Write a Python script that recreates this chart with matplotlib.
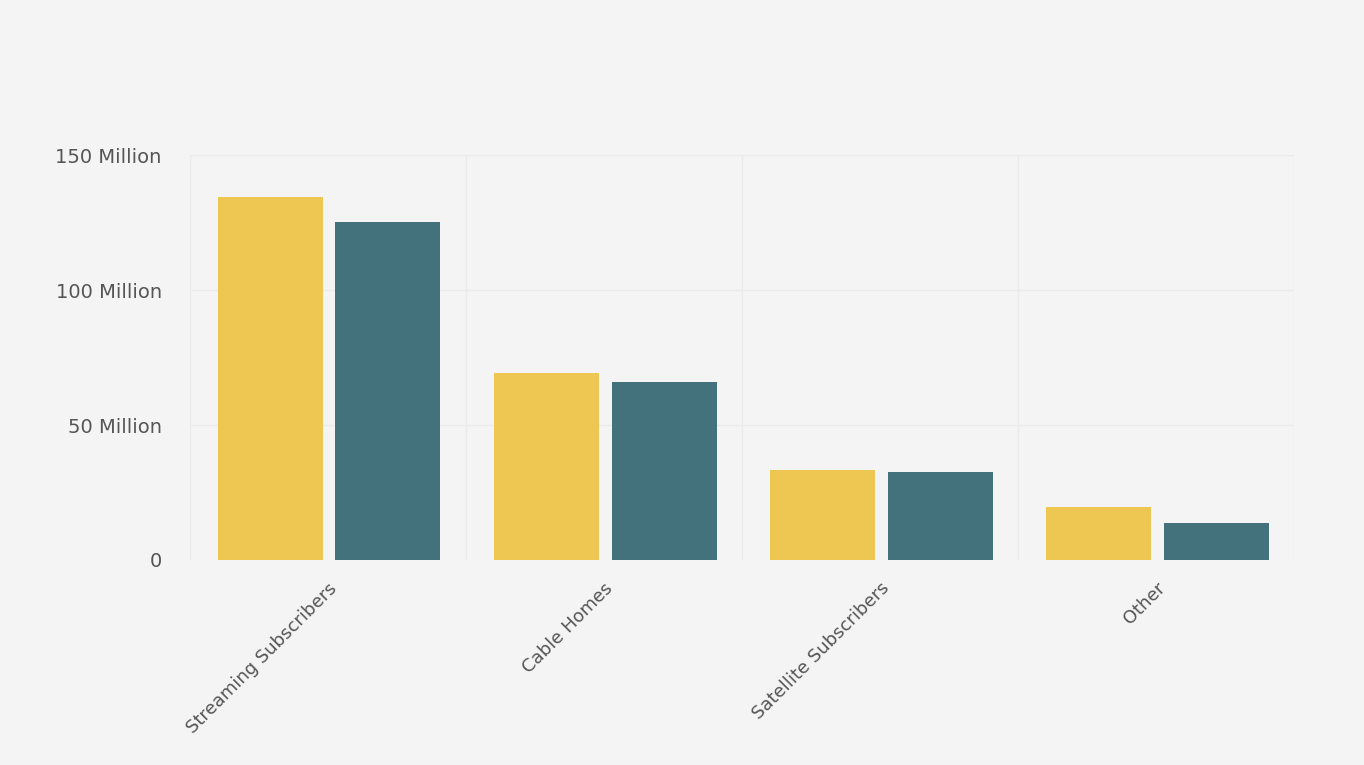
import numpy as np
import matplotlib.pyplot as plt
from matplotlib.ticker import FuncFormatter

categories = ["Streaming Subscribers", "Cable Homes", "Satellite Subscribers", "Other"]
series_a = [134.4, 69.3, 33.3, 19.6]   # millions
series_b = [125.2, 65.9, 32.6, 13.7]
yticks = [0, 50, 100, 150]

bg = "#f4f4f4"
fig = plt.figure(figsize=(13.64, 7.65), dpi=100, facecolor=bg)
ax = fig.add_axes([0.139, 0.268, 0.81, 0.529], facecolor=bg)

x = np.arange(len(categories))
w = 0.38
ax.bar(x - 0.208, series_a, width=w, color="#EEC652", zorder=3)
ax.bar(x + 0.218, series_b, width=w, color="#43727D", zorder=3)

ax.set_xlim(-0.5, 3.5)
ax.set_ylim(0, 150)
ax.set_yticks(yticks)
ax.yaxis.set_major_formatter(FuncFormatter(lambda v, p: "0" if v == 0 else f"{int(v)} Million"))

ax.set_xticks(x)
ax.set_xticklabels(categories, rotation=45, ha="right", rotation_mode="anchor")

# faint grid: horizontal at ticks, vertical between categories
for yv in yticks[1:]:
    ax.axhline(yv, color="#eaeaea", lw=1, zorder=0)
for xv in np.arange(-0.5, 4, 1):
    ax.axvline(xv, color="#eaeaea", lw=1, zorder=0)

for s in ax.spines.values():
    s.set_visible(False)
ax.tick_params(axis="both", length=0, colors="#555555", labelsize=13)
ax.tick_params(axis="y", pad=20, labelsize=14)
ax.tick_params(axis="x", pad=14)

plt.savefig("out.png", dpi=100, facecolor=bg)
